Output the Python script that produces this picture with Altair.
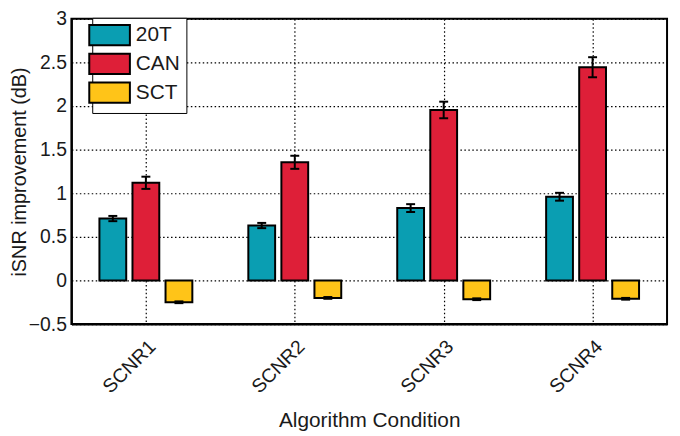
import json
import altair as alt
import pandas as pd

groups = ["SCNR1", "SCNR2", "SCNR3", "SCNR4"]
series = ["20T", "CAN", "SCT"]
colors = ["#0A9EB2", "#DE1F38", "#FFC418"]

vals_20t = [0.71, 0.63, 0.83, 0.96]
err_20t = [0.03, 0.03, 0.045, 0.045]
vals_can = [1.12, 1.355, 1.955, 2.445]
err_can = [0.07, 0.075, 0.095, 0.115]
vals_sct = [-0.25, -0.20, -0.215, -0.21]
err_sct = [0.01, 0.01, 0.01, 0.01]

yticks = [-0.5, 0, 0.5, 1, 1.5, 2, 2.5, 3]

vals = [vals_20t, vals_can, vals_sct]
errs = [err_20t, err_can, err_sct]
rows = []
for i, g in enumerate(groups):
    for j, s in enumerate(series):
        rows.append(dict(group=g, gi=i + 1, series=s, si=j,
                         value=vals[j][i], err=errs[j][i]))
df = pd.DataFrame(rows)

FONT = "Liberation Sans"
TXT = "#1a1a1a"
H = 308

base = alt.Chart(df).transform_calculate(
    xc="datum.gi + (datum.si - 1) * 0.222",
    x0="datum.xc - 0.09",
    x1="datum.xc + 0.09",
    zero="0",
    lo="datum.value - datum.err",
    hi="datum.value + datum.err",
    c0="datum.xc - 0.03",
    c1="datum.xc + 0.03",
)

xscale = alt.Scale(domain=[0.5, 4.5], nice=False, zero=False)
yscale = alt.Scale(domain=[-0.5, 3], nice=False, zero=False)

xaxis = alt.Axis(
    values=[1, 2, 3, 4],
    labelExpr=json.dumps(groups) + "[datum.value - 1]",
    labelAngle=-45, labelAlign="right", labelBaseline="top",
    labelPadding=13, labelFontSize=19.5, tickSize=0,
    title="Algorithm Condition", titlePadding=14,
)
yaxis = alt.Axis(
    values=yticks, format="~g", tickSize=0, labelPadding=5, labelFontSize=19.5,
    title="iSNR improvement (dB)", titleFontSize=20,
    titleX=-46, titleY=H / 2, titleAngle=-90, titleAlign="center",
    titleBaseline="alphabetic",
)

bars = base.mark_bar(stroke="black", strokeWidth=2).encode(
    x=alt.X("x0:Q", scale=xscale, axis=xaxis),
    x2="x1:Q",
    y=alt.Y("value:Q", scale=yscale, axis=yaxis),
    y2="zero:Q",
    color=alt.Color(
        "series:N",
        scale=alt.Scale(domain=series, range=colors),
        legend=alt.Legend(
            title=None, orient="none", legendX=21, legendY=-1,
            symbolType="M-2,-1L2,-1L2,1L-2,1Z", symbolSize=420,
            symbolStrokeColor="black", symbolStrokeWidth=2, symbolOpacity=1,
            labelFontSize=21, labelFont=FONT, labelOffset=15, labelColor=TXT,
            padding=6, rowPadding=0, strokeColor="black", fillColor="white",
        ),
    ),
)

stems = base.mark_rule(color="black", strokeWidth=2).encode(
    x=alt.X("xc:Q", scale=xscale), y=alt.Y("lo:Q", scale=yscale), y2="hi:Q"
)
caps_hi = base.mark_rule(color="black", strokeWidth=2).encode(
    x=alt.X("c0:Q", scale=xscale), x2="c1:Q", y=alt.Y("hi:Q", scale=yscale)
)
caps_lo = base.mark_rule(color="black", strokeWidth=2).encode(
    x=alt.X("c0:Q", scale=xscale), x2="c1:Q", y=alt.Y("lo:Q", scale=yscale)
)

chart = alt.layer(bars, stems, caps_hi, caps_lo).properties(
    width=601, height=H,
    autosize=alt.AutoSizeParams(type="none"),
    padding={"left": 64, "top": 9, "right": 5, "bottom": 111},
    background="white",
).configure_view(
    stroke="black", strokeWidth=2
).configure_axis(
    domainColor="black", domainWidth=2,
    grid=True, gridColor="black", gridDash=[1.5, 2.5], gridWidth=1.2, gridOpacity=1,
    labelFont=FONT, labelColor=TXT,
    titleFont=FONT, titleFontSize=21, titleFontWeight="normal", titleColor=TXT,
)

chart.save("out.html", embed_options={"renderer": "svg", "actions": False})
